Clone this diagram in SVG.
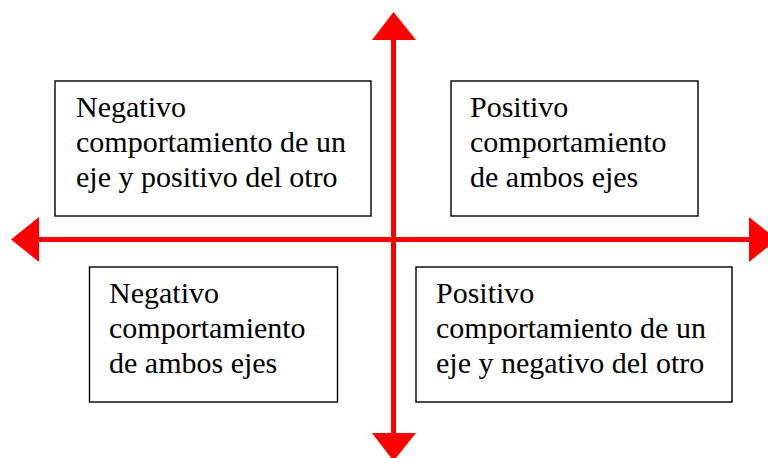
<svg xmlns="http://www.w3.org/2000/svg" width="768" height="458" viewBox="0 0 768 458">
<style>
.box{fill:#fff;stroke:#000;stroke-width:1.4}
.t{font-family:"Liberation Serif","Times New Roman",serif;font-size:30px;fill:#000}
.ax{stroke:#f00;stroke-width:5;fill:none}
.hd{fill:#f00}
</style>
<rect width="768" height="458" fill="#fff"/>
<g id="connectors">
<line class="ax" x1="393.5" y1="38" x2="393.5" y2="435"/>
<line class="ax" x1="37" y1="239.5" x2="751" y2="239.5"/>
<polygon class="hd" points="393.5,12 372,40 416,40"/>
<polygon class="hd" points="393.5,461 372,433 416,433"/>
<polygon class="hd" points="11,239.5 39,217 39,262"/>
<polygon class="hd" points="777,239.5 749,217 749,262"/>
</g>
<g id="q2">
<rect class="box" x="55" y="81" width="316" height="135"/>
<text class="t" x="76" y="117">Negativo</text>
<text class="t" x="76" y="152">comportamiento de un</text>
<text class="t" x="76" y="187">eje y positivo del otro</text>
</g>
<g id="q1">
<rect class="box" x="451" y="81" width="247" height="135"/>
<text class="t" x="470" y="117">Positivo</text>
<text class="t" x="470" y="152">comportamiento</text>
<text class="t" x="470" y="187">de ambos ejes</text>
</g>
<g id="q3">
<rect class="box" x="89.5" y="267" width="248" height="135"/>
<text class="t" x="109" y="303">Negativo</text>
<text class="t" x="109" y="338">comportamiento</text>
<text class="t" x="109" y="373">de ambos ejes</text>
</g>
<g id="q4">
<rect class="box" x="416" y="267" width="316" height="135"/>
<text class="t" x="436" y="303">Positivo</text>
<text class="t" x="436" y="338">comportamiento de un</text>
<text class="t" x="436" y="373">eje y negativo del otro</text>
</g>
</svg>
